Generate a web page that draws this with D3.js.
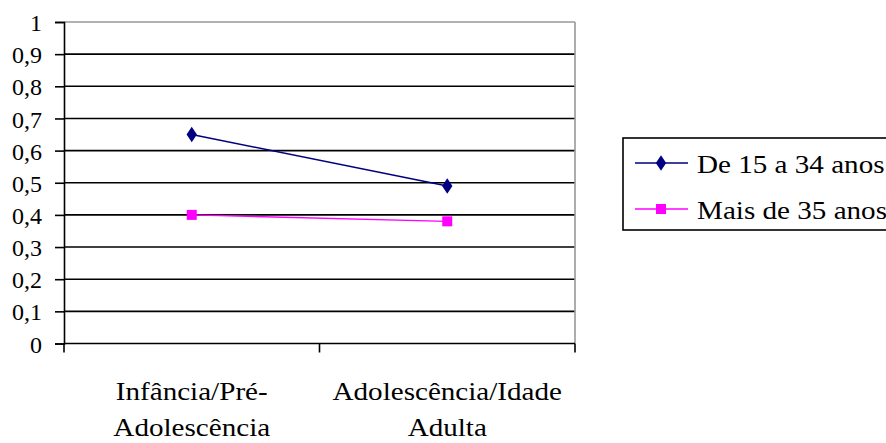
<!DOCTYPE html>
<html>
<head>
<meta charset="utf-8">
<script src="https://cdn.jsdelivr.net/npm/d3@7"></script>
<style>
  html, body { margin:0; padding:0; background:#fff; }
  svg { display:block; }
</style>
</head>
<body>
<svg id="chart" width="886" height="443"></svg>
<script>
// data
const categories = [['Infância/Pré-', 'Adolescência'], ['Adolescência/Idade', 'Adulta']]
const seriesNames = ['De 15 a 34 anos', 'Mais de 35 anos']
const young = [0.65, 0.49]
const older = [0.40, 0.38]
const yTicks = [0, 0.1, 0.2, 0.3, 0.4, 0.5, 0.6, 0.7, 0.8, 0.9, 1]

const FONT = '"Liberation Serif", "Times New Roman", serif'
const SX = 1.12   // the original bitmap font runs a bit wider than Times
const plot = { left: 64, right: 575, top: 22, bottom: 343.5 }
const COLORS = ['#000080', '#ff00ff']

const svg = d3.select('#chart')

const x = d3.scaleBand().domain(d3.range(categories.length)).range([plot.left, plot.right]).padding(0)
const y = d3.scaleLinear().domain([0, 1]).range([plot.bottom, plot.top])
const cx = i => x(i) + x.bandwidth()/2

// gridlines (black), top border gray
const grid = svg.append('g')
grid.selectAll('line').data(yTicks.filter(t => t > 0)).enter().append('line')
  .attr('x1', plot.left).attr('x2', plot.right)
  .attr('y1', d => y(d)).attr('y2', d => y(d))
  .attr('stroke', d => d === 1 ? '#999' : '#000')
  .attr('stroke-width', 1.6)
svg.append('line').attr('x1', plot.right).attr('x2', plot.right).attr('y1', plot.top).attr('y2', plot.bottom)
  .attr('stroke', '#999').attr('stroke-width', 1.6)

// y axis
const yAxis = svg.append('g').attr('transform', `translate(${plot.left},0)`)
  .call(d3.axisLeft(y).tickValues(yTicks).tickSize(9).tickPadding(13)
    .tickFormat(d => d === 0 || d === 1 ? String(d) : d3.format('.1f')(d).replace('.', ',')))
yAxis.select('.domain').attr('stroke', '#000').attr('stroke-width', 1.6)
yAxis.selectAll('.tick line').attr('stroke', '#000').attr('stroke-width', 1.6)
yAxis.selectAll('.tick text').attr('fill', '#000').attr('dy', '0.36em')
  .style('font-family', FONT).style('font-size', '24px')

// x axis: ticks at category boundaries
const bounds = d3.range(categories.length + 1).map(i => i < categories.length ? x(i) : x(i-1) + x.bandwidth())
const xAxis = svg.append('g')
xAxis.append('line').attr('x1', plot.left).attr('x2', plot.right).attr('y1', plot.bottom).attr('y2', plot.bottom)
  .attr('stroke', '#000').attr('stroke-width', 1.6)
xAxis.selectAll('line.tk').data(bounds).enter().append('line').attr('class', 'tk')
  .attr('x1', d => d).attr('x2', d => d).attr('y1', plot.bottom).attr('y2', plot.bottom + 9)
  .attr('stroke', '#000').attr('stroke-width', 1.6)

// category labels, two lines each
categories.forEach((lines, i) => {
  lines.forEach((t, k) => {
    svg.append('text')
      .attr('transform', `translate(${cx(i)},${400 + k*36}) scale(${SX},1)`)
      .attr('text-anchor', 'middle').attr('fill', '#000')
      .style('font-family', FONT).style('font-size', '26px')
      .text(t)
  })
})

// series
const series = [young, older]
const line = d3.line().x((d, i) => cx(i)).y(d => y(d))
series.forEach((vals, s) => {
  svg.append('path').datum(vals).attr('d', line)
    .attr('fill', 'none').attr('stroke', COLORS[s]).attr('stroke-width', s === 0 ? 1.6 : 1.4)
})
function marker(g, s, px, py){
  if(s === 0){
    g.append('path').attr('d', d3.symbol(d3.symbolDiamond, 70)())
      .attr('transform', `translate(${px},${py}) scale(1.15,1)`).attr('fill', COLORS[0])
  } else {
    g.append('rect').attr('x', px - 5).attr('y', py - 5).attr('width', 10).attr('height', 10).attr('fill', COLORS[1])
  }
}
series.forEach((vals, s) => vals.forEach((v, i) => marker(svg, s, cx(i), y(v))))

// legend
const lg = svg.append('g')
lg.append('rect').attr('x', 623).attr('y', 138).attr('width', 280).attr('height', 92)
  .attr('fill', '#fff').attr('stroke', '#000').attr('stroke-width', 1.6)
seriesNames.forEach((name, s) => {
  const ly = 163 + s*46
  lg.append('line').attr('x1', 635).attr('x2', 688).attr('y1', ly).attr('y2', ly)
    .attr('stroke', COLORS[s]).attr('stroke-width', s === 0 ? 1.6 : 1.4)
  marker(lg, s, 661, ly)
  lg.append('text').attr('transform', `translate(697,${ly + 9.5}) scale(${SX},1)`)
    .attr('fill', '#000').style('font-family', FONT).style('font-size', '26px').text(name)
})
</script>
</body>
</html>
